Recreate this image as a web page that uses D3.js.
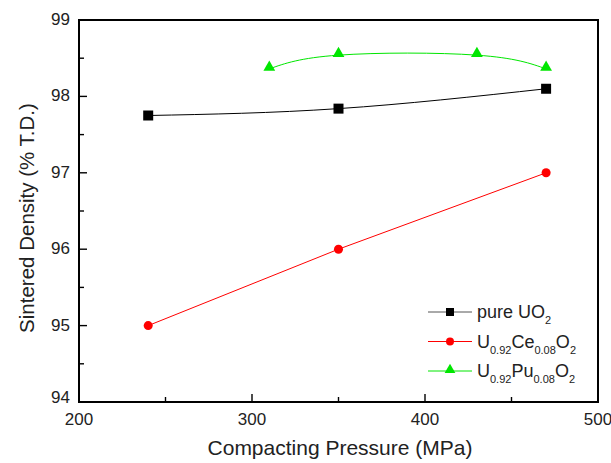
<!DOCTYPE html>
<html><head><meta charset="utf-8">
<script src="https://cdn.jsdelivr.net/npm/d3@7"></script>
<style>body{margin:0;background:#fff}svg{display:block}text{font-family:"Liberation Sans",Arial,sans-serif;fill:#222}</style>
</head><body>
<svg id="c" width="611" height="463"></svg>
<script>
const pressureUO2 = [240, 350, 470];
const densityUO2 = [97.75, 97.84, 98.1];
const pressureCe = [240, 350, 470];
const densityCe = [95.0, 96.0, 97.0];
const pressurePu = [310, 350, 430, 470];
const densityPu = [98.36, 98.54, 98.54, 98.36];
const xTicks = [200, 300, 400, 500];
const yTicks = [94, 95, 96, 97, 98, 99];

const svg = d3.select("#c");
const L = 79, R = 598, T = 20, B = 402;
const x = d3.scaleLinear().domain([200, 500]).range([L, R]);
const y = d3.scaleLinear().domain([94, 99]).range([B, T]);

// frame
svg.append("rect").attr("x", L).attr("y", T).attr("width", R - L).attr("height", B - T)
  .attr("fill", "none").attr("stroke", "#000").attr("stroke-width", 2);

// x axis ticks (inward)
const xMinor = d3.range(250, 500, 50);
svg.append("g").selectAll("line").data(xMinor).join("line")
  .attr("x1", d => x(d)).attr("x2", d => x(d))
  .attr("y1", B).attr("y2", d => B - (d % 100 === 0 ? 8 : 5))
  .attr("stroke", "#000").attr("stroke-width", 1.4);
svg.append("g").selectAll("text").data(xTicks).join("text")
  .attr("x", d => x(d)).attr("y", B + 23).attr("text-anchor", "middle")
  .attr("font-size", 17).text(d => d);

// y axis ticks (inward)
const yMinor = d3.range(94.5, 99, 0.5);
svg.append("g").selectAll("line").data(yMinor).join("line")
  .attr("x1", L).attr("x2", d => L + (Math.abs(d - Math.round(d)) < 1e-6 ? 8 : 5))
  .attr("y1", d => y(d)).attr("y2", d => y(d))
  .attr("stroke", "#000").attr("stroke-width", 1.4);
svg.append("g").selectAll("text").data(yTicks).join("text")
  .attr("x", L - 9).attr("y", d => y(d) + (d === 94 ? 1 : 5)).attr("text-anchor", "end")
  .attr("font-size", 17).text(d => d);

// axis titles
svg.append("text").attr("x", 340).attr("y", 455).attr("text-anchor", "middle")
  .attr("font-size", 21).text("Compacting Pressure (MPa)");
svg.append("text").attr("transform", `translate(34,218) rotate(-90)`)
  .attr("text-anchor", "middle").attr("font-size", 20.5).text("Sintered Density (% T.D.)");

// series
const series = [
  {px: pressureUO2, py: densityUO2, color: "#000", shape: "square", curve: d3.curveNatural},
  {px: pressureCe, py: densityCe, color: "#ff0000", shape: "circle", curve: d3.curveLinear},
  {px: pressurePu, py: densityPu, color: "#00e600", shape: "triangle", curve: d3.curveNatural}
];
const sym = {
  square: d3.symbol(d3.symbolSquare, 100),
  circle: d3.symbol(d3.symbolCircle, 64),
  triangle: d3.symbol(d3.symbolTriangle, 60)
};
series.forEach(s => {
  const pts = s.px.map((v, i) => [v, s.py[i]]);
  svg.append("path").datum(pts)
    .attr("d", d3.line().x(d => x(d[0])).y(d => y(d[1])).curve(s.curve))
    .attr("fill", "none").attr("stroke", s.color).attr("stroke-width", 1);
  svg.append("g").selectAll("path").data(pts).join("path")
    .attr("transform", d => `translate(${x(d[0])},${y(d[1]) - (s.shape === "triangle" ? 1.5 : 0)})`)
    .attr("d", sym[s.shape]()).attr("fill", s.color);
});

// legend
const legend = [
  {color: "#000", shape: "square", parts: [["pure UO", ""], ["2", "sub"]]},
  {color: "#ff0000", shape: "circle", parts: [["U", ""], ["0.92", "sub"], ["Ce", ""], ["0.08", "sub"], ["O", ""], ["2", "sub"]]},
  {color: "#00e600", shape: "triangle", parts: [["U", ""], ["0.92", "sub"], ["Pu", ""], ["0.08", "sub"], ["O", ""], ["2", "sub"]]}
];
const legSym = {square: [d3.symbolSquare, 64], circle: [d3.symbolCircle, 50], triangle: [d3.symbolTriangle, 50]};
const lg = svg.append("g");
legend.forEach((e, i) => {
  const ly = 312 + i * 29.5;
  lg.append("line").attr("x1", 428).attr("x2", 472).attr("y1", ly).attr("y2", ly)
    .attr("stroke", e.color === "#000" ? "#555" : e.color).attr("stroke-width", 1);
  lg.append("path").attr("transform", `translate(450,${ly - (e.shape === "triangle" ? 1 : 0)})`)
    .attr("d", d3.symbol(legSym[e.shape][0], legSym[e.shape][1])())
    .attr("fill", e.color);
  const t = lg.append("text").attr("x", 477).attr("y", ly + 6).attr("font-size", 18);
  e.parts.forEach((p, j) => {
    const ts = t.append("tspan").text(p[0]);
    if (p[1] === "sub") ts.attr("font-size", 11).attr("dy", 6);
    else ts.attr("dy", j === 0 ? 0 : -6);
  });
});
</script>
</body></html>
